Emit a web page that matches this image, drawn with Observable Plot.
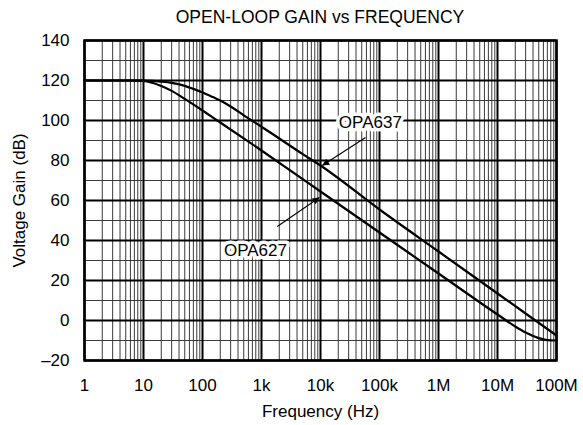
<!DOCTYPE html>
<html>
<head>
<meta charset="utf-8">
<script src="https://cdn.jsdelivr.net/npm/d3@7"></script>
<script src="https://cdn.jsdelivr.net/npm/@observablehq/plot@0.6"></script>
<style>
  html, body { margin: 0; padding: 0; background: #fff; }
  #wrap { position: relative; width: 583px; height: 425px; font-family: "Liberation Sans", Arial, sans-serif; }
  #title { position: absolute; left: 0; top: 0; width: 583px; height: 32px; box-sizing: border-box; padding-left: 57px; padding-top: 9px; text-align: center; font-size: 17.5px; line-height: 17px; color: #000; }
  #chart { position: absolute; left: 0; top: 32px; }
</style>
</head>
<body>
<div id="wrap">
  <div id="title">OPEN-LOOP GAIN vs FREQUENCY</div>
  <div id="chart"></div>
</div>
<script>
// ---- Axis ticks / labels ----
const decades = [1, 10, 100, 1e3, 1e4, 1e5, 1e6, 1e7, 1e8];
const xTickLabels = ["1", "10", "100", "1k", "10k", "100k", "1M", "10M", "100M"];
const minorMultipliers = [2, 3, 4, 5, 6, 7, 8, 9];
const yTicks = [-20, 0, 20, 40, 60, 80, 100, 120, 140];
const yTickLabels = ["\u201320", "0", "20", "40", "60", "80", "100", "120", "140"];
const yMinor = [-10, 10, 30, 50, 70, 90, 110, 130];

// ---- Series (frequency Hz, gain dB) ----
const opa627Freq = [1, 3, 6, 10, 15, 20, 30, 50, 100, 200, 1e3, 1e4, 1e5, 1e6, 1e7, 2e7, 3e7, 5e7, 7e7, 1e8];
const opa627Gain = [120, 120, 120, 119.8, 118.6, 117.2, 114.8, 110.8, 105, 99, 85, 64.5, 44, 23.5, 3, -3, -6, -8.8, -9.8, -10];
const opa637Freq = [1, 5, 10, 20, 30, 50, 70, 100, 150, 200, 300, 500, 700, 1e3, 2e3, 5e3, 1e4, 1e5, 1e6, 1e7, 1e8];
const opa637Gain = [120, 120, 119.9, 119.4, 118.8, 117.3, 115.8, 114, 111.7, 110, 107, 102.6, 99.8, 96.9, 91, 83.2, 77.5, 55.5, 34.5, 13.5, -7.5];

// ---- Annotations ----
const labelNames = ["OPA637", "OPA627"];
const labelFreq = [70000, 790];
const labelGain = [99, 35];
const arrowFromFreq = [58000, 1850];
const arrowFromGain = [91.5, 47];
const arrowToFreq = [10700, 9600];
const arrowToGain = [77.5, 61.5];

const xMinor = decades.slice(0, -1).flatMap(d => minorMultipliers.map(m => d * m));
const s627 = opa627Freq.map((f, i) => ({f, g: opa627Gain[i]}));
const s637 = opa637Freq.map((f, i) => ({f, g: opa637Gain[i]}));
const labels = labelNames.map((t, i) => ({t, f: labelFreq[i], g: labelGain[i]}));
const arrows = labelNames.map((t, i) => ({x1: arrowFromFreq[i], y1: arrowFromGain[i], x2: arrowToFreq[i], y2: arrowToGain[i]}));

const plot = Plot.plot({
  width: 583,
  height: 393,
  marginTop: 8,
  marginLeft: 84,
  marginRight: 27,
  marginBottom: 65,
  x: {type: "log", domain: [1, 1e8]},
  y: {domain: [-20, 140]},
  style: {fontFamily: "'Liberation Sans', Arial, sans-serif", fontSize: "17px", color: "#000", background: "#fff"},
  marks: [
    Plot.ruleX(xMinor, {stroke: "#3a3a3a", strokeWidth: 1}),
    Plot.ruleY(yMinor, {stroke: "#3a3a3a", strokeWidth: 1}),
    Plot.ruleX(decades, {stroke: "#000", strokeWidth: 2}),
    Plot.ruleY(yTicks, {stroke: "#000", strokeWidth: 2}),
    Plot.frame({stroke: "#000", strokeWidth: 2.5}),
    Plot.line(s627, {x: "f", y: "g", stroke: "#000", strokeWidth: 2.2, curve: "monotone-x"}),
    Plot.line(s637, {x: "f", y: "g", stroke: "#000", strokeWidth: 2.2, curve: "monotone-x"}),
    Plot.link(arrows, {x1: "x1", y1: "y1", x2: "x2", y2: "y2", stroke: "#000", strokeWidth: 1.1}),
    Plot.text(labels, {x: "f", y: "g", text: "t", fontSize: 17, fill: "#000", stroke: "#fff", strokeWidth: 7}),
    Plot.axisX(decades, {
      tickFormat: d => xTickLabels[decades.indexOf(d)],
      tickSize: 0, tickPadding: 18, fontSize: 17,
      label: "Frequency (Hz)", labelAnchor: "center", labelOffset: 56, labelArrow: false
    }),
    Plot.axisY(yTicks, {
      tickFormat: d => yTickLabels[yTicks.indexOf(d)],
      tickSize: 0, tickPadding: 15, fontSize: 17,
      label: "Voltage Gain (dB)", labelAnchor: "center", labelOffset: 72, labelArrow: false
    })
  ]
});

// filled arrowheads for the annotation leaders
const svg = d3.select(plot);
svg.insert("defs", ":first-child")
  .append("marker")
  .attr("id", "ah").attr("viewBox", "0 0 10 10").attr("refX", 10).attr("refY", 5)
  .attr("markerWidth", 13).attr("markerHeight", 7).attr("markerUnits", "userSpaceOnUse")
  .attr("orient", "auto")
  .append("path").attr("d", "M0,0L10,5L0,10Z").attr("fill", "#000");
svg.selectAll("g[aria-label='link'] path").attr("marker-end", "url(#ah)");

document.getElementById("chart").appendChild(plot);
</script>
</body>
</html>
